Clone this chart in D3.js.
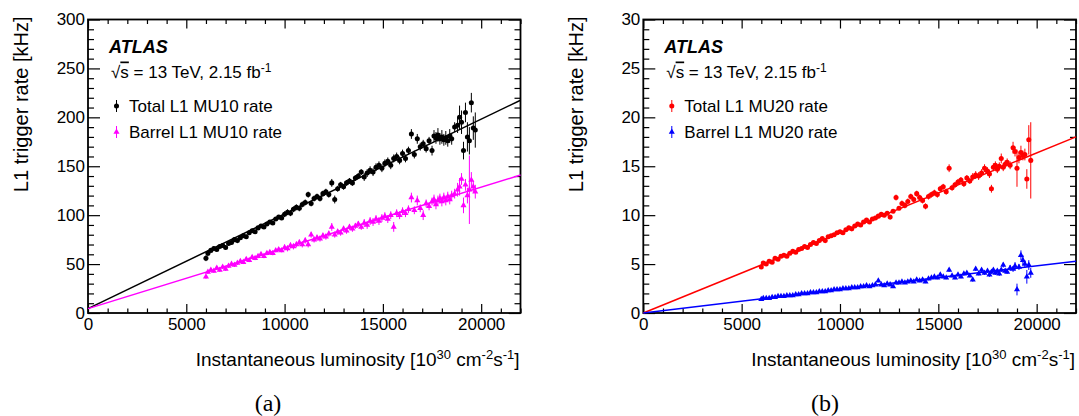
<!DOCTYPE html>
<html><head><meta charset="utf-8">
<script src="https://cdn.jsdelivr.net/npm/d3@7"></script>
<style>
html,body{margin:0;padding:0;background:#fff;}
svg{display:block;font-family:"Liberation Sans",Arial,sans-serif;}
</style></head>
<body><svg id="c" width="1079" height="416"></svg>
<script>
// ---------------- DATA ----------------
const lumi = [6000,6100,6250,6400,6550,6700,6850,7000,7150,7300,7450,7600,7750,7900,8050,8200,8350,8500,8650,8800,8950,9100,9250,9400,9550,9700,9850,10000,10150,10300,10450,10600,10750,10900,11050,11200,11350,11500,11650,11800,11950,12100,12250,12400,12550,12700,12850,13000,13150,13300,13450,13600,13750,13900,14050,14200,14350,14500,14650,14800,14950,15100,15250,15400,15550,15700,15850,16000,16150,16300,16450,16600,16750,16900,17050,17200,17350,17500,17600,17700,17800,17900,18000,18100,18200,18300,18400,18500,18650,18800,18900,19000,19100,19200,19300,19400,19500,19600,19700];

const totalMU10 = [56,61,64,66,65,68,69,67,71,72,75,74,77,79,78,82,84,83,87,89,88,91,93,92,96,98,97,101,103,102,106,108,107,111,113,121,112,117,119,117,122,124,121,133,116,127,131,129,133,135,133,138,140,144,139,143,146,144,149,151,148,153,155,151,158,160,156,163,158,166,183,162,178,170,173,168,176,166,181,179,182,178,180,177,179,176,181,178,190,192,200,195,166,205,180,176,215,189,187];
const totalMU10Err = [3,3,2,2,2,2,2,2,2,2,2,2,2,2,2,2,2,2,2,2,2,2,2,2,2,2,2,3,3,3,3,3,3,3,3,3,3,3,3,3,3,3,3,4,4,3,3,3,3,3,3,3,3,3,4,4,4,4,4,4,4,4,4,4,4,4,4,4,4,4,5,4,5,4,4,4,4,5,6,6,7,6,7,6,7,6,7,6,5,8,12,12,9,10,15,14,10,12,18];

const barrelMU10 = [37,42,44,43,46,44,47,45,48,50,49,51,53,52,55,54,57,56,58,60,58,61,62,61,64,65,64,67,66,69,68,70,72,70,74,70,80,75,77,76,79,78,81,88,80,83,82,86,84,88,86,89,91,88,92,90,94,93,96,94,97,99,96,100,88,102,100,104,102,106,118,105,115,107,100,112,109,114,116,111,115,117,114,118,115,119,116,120,122,126,129,137,110,131,120,126,136,129,124];
const barrelMU10Err = [2,2,2,2,2,2,2,2,2,2,2,2,2,2,2,2,2,2,2,2,2,2,2,2,2,2,2,3,3,3,3,3,3,3,3,3,3,3,3,3,3,3,3,4,3,3,3,3,3,3,3,3,3,3,4,4,4,4,4,4,4,4,4,4,5,4,4,4,4,4,5,4,5,4,5,4,4,4,5,5,5,5,5,5,5,5,5,5,5,7,9,6,8,6,8,35,8,6,7];

const totalMU20 = [4.7,5.1,5.0,5.3,5.2,5.6,5.5,5.8,5.9,5.8,6.1,6.3,6.2,6.5,6.6,6.8,6.7,7.0,7.2,7.1,7.4,7.6,7.4,7.8,7.9,8.0,8.2,8.3,8.2,8.5,8.7,8.6,8.9,9.1,9.0,9.3,9.5,9.3,9.6,9.7,9.9,10.1,10.0,10.2,9.8,10.4,11.8,10.7,11.2,11.0,11.4,11.9,11.6,12.2,11.8,11.5,10.9,11.9,12.1,12.3,12.1,12.7,12.9,12.4,14.8,12.8,13.1,13.4,13.6,13.2,13.8,13.5,13.9,14.1,14.0,14.3,14.8,14.5,14.2,12.7,14.9,15.1,14.7,15.0,15.8,14.9,15.2,15.4,15.1,16.9,16.5,14.8,15.9,16.4,16.1,16.2,13.7,17.7,15.6];
const totalMU20Err = [0.15,0.15,0.15,0.15,0.15,0.15,0.15,0.15,0.15,0.15,0.15,0.15,0.15,0.15,0.15,0.15,0.15,0.15,0.15,0.15,0.15,0.15,0.15,0.15,0.15,0.15,0.15,0.2,0.2,0.2,0.2,0.2,0.2,0.2,0.2,0.2,0.2,0.2,0.2,0.2,0.2,0.2,0.2,0.2,0.2,0.2,0.3,0.2,0.3,0.3,0.3,0.3,0.3,0.3,0.3,0.3,0.3,0.3,0.3,0.3,0.3,0.3,0.3,0.3,0.4,0.3,0.3,0.3,0.3,0.3,0.3,0.3,0.4,0.4,0.4,0.4,0.4,0.4,0.4,0.4,0.4,0.4,0.4,0.4,0.5,0.4,0.4,0.4,0.4,0.6,0.5,1.9,0.6,0.7,0.5,0.6,1.0,1.5,3.9];

const barrelMU20 = [1.4,1.5,1.5,1.5,1.6,1.6,1.7,1.7,1.7,1.8,1.8,1.8,1.9,1.9,2.0,2.0,2.0,2.1,2.1,2.1,2.2,2.2,2.2,2.3,2.3,2.4,2.4,2.4,2.5,2.5,2.5,2.6,2.6,2.6,2.7,2.7,2.8,2.7,2.8,2.9,3.3,2.9,2.8,3.0,2.9,2.7,3.1,3.1,3.2,3.1,3.2,3.3,3.2,3.4,3.3,3.4,3.2,3.5,3.6,3.7,3.6,3.9,3.7,3.6,4.4,3.8,3.6,3.9,3.7,4.0,4.1,3.8,3.4,4.5,4.0,4.4,4.1,4.3,3.9,4.2,4.4,4.1,4.3,4.0,4.4,4.9,4.3,4.2,4.6,4.5,4.8,2.4,4.7,5.9,5.4,5.0,3.7,4.9,4.1];
const barrelMU20Err = [0.08,0.08,0.08,0.08,0.08,0.08,0.08,0.08,0.08,0.08,0.08,0.08,0.08,0.08,0.08,0.08,0.08,0.08,0.08,0.08,0.08,0.08,0.08,0.08,0.08,0.08,0.08,0.1,0.1,0.1,0.1,0.1,0.1,0.1,0.1,0.1,0.1,0.1,0.1,0.1,0.15,0.1,0.1,0.1,0.1,0.15,0.1,0.1,0.1,0.1,0.1,0.1,0.1,0.1,0.15,0.15,0.15,0.15,0.15,0.15,0.15,0.15,0.15,0.15,0.2,0.15,0.15,0.15,0.15,0.15,0.15,0.15,0.2,0.2,0.15,0.2,0.2,0.2,0.2,0.2,0.2,0.2,0.2,0.2,0.2,0.25,0.2,0.2,0.3,0.3,0.4,0.6,0.3,0.5,0.5,0.4,0.7,0.5,0.5];

// fitted straight lines: [lumi, rate] endpoints
const fitTotalMU10 = [[0, 4.5], [22000, 217.5]];
const fitBarrelMU10 = [[0, 4.5], [22000, 141]];
const fitTotalMU20 = [[0, 0], [22000, 18.0]];
const fitBarrelMU20 = [[0, 0], [22000, 5.3]];

const xTicks = [0, 5000, 10000, 15000, 20000];
const yTicksA = [0, 50, 100, 150, 200, 250, 300];
const yTicksB = [0, 5, 10, 15, 20, 25, 30];
const legendA = ["Total L1 MU10 rate", "Barrel L1 MU10 rate"];
const legendB = ["Total L1 MU20 rate", "Barrel L1 MU20 rate"];
const captions = ["(a)", "(b)"];

// ---------------- DRAW ----------------
const svg = d3.select("#c");
const TOP = 19.5, BOT = 313;

function drawPanel(cfg) {
  const x = d3.scaleLinear().domain([0, 22000]).range([cfg.x0, cfg.x1]);
  const y = d3.scaleLinear().domain(cfg.yDomain).range([BOT, TOP]);
  const g = svg.append("g");
  const minorX = d3.range(0, 22001, 1000).filter(v => v % 5000 !== 0);
  const minorY = d3.range(cfg.yDomain[0], cfg.yDomain[1] + 1e-9, cfg.yMinor).filter(v => Math.abs(v / cfg.yMajor - Math.round(v / cfg.yMajor)) > 1e-6);

  // bottom axis
  g.append("g").attr("transform", `translate(0,${BOT})`)
    .call(d3.axisBottom(x).tickValues(xTicks).tickSizeInner(-9).tickSizeOuter(0).tickPadding(5).tickFormat(d3.format("d")));
  g.append("g").attr("transform", `translate(0,${BOT})`)
    .call(d3.axisBottom(x).tickValues(minorX).tickSizeInner(-4.5).tickSizeOuter(0).tickFormat(""));
  // top axis
  g.append("g").attr("transform", `translate(0,${TOP})`)
    .call(d3.axisTop(x).tickValues(xTicks).tickSizeInner(-9).tickSizeOuter(0).tickFormat(""));
  g.append("g").attr("transform", `translate(0,${TOP})`)
    .call(d3.axisTop(x).tickValues(minorX).tickSizeInner(-4.5).tickSizeOuter(0).tickFormat(""));
  // left axis
  g.append("g").attr("transform", `translate(${cfg.x0},0)`)
    .call(d3.axisLeft(y).tickValues(cfg.yTicks).tickSizeInner(-12).tickSizeOuter(0).tickPadding(3).tickFormat(d3.format("d")));
  g.append("g").attr("transform", `translate(${cfg.x0},0)`)
    .call(d3.axisLeft(y).tickValues(minorY).tickSizeInner(-6).tickSizeOuter(0).tickFormat(""));
  // right axis
  g.append("g").attr("transform", `translate(${cfg.x1},0)`)
    .call(d3.axisRight(y).tickValues(cfg.yTicks).tickSizeInner(-12).tickSizeOuter(0).tickFormat(""));
  g.append("g").attr("transform", `translate(${cfg.x1},0)`)
    .call(d3.axisRight(y).tickValues(minorY).tickSizeInner(-6).tickSizeOuter(0).tickFormat(""));

  g.selectAll(".domain").remove();
  g.selectAll(".tick line").attr("stroke", "#000").attr("stroke-width", 1.2);
  g.selectAll(".tick text").attr("font-family", "Liberation Sans, Arial, sans-serif").attr("font-size", 17).attr("fill", "#000");

  // frame
  g.append("rect").attr("x", cfg.x0).attr("y", TOP).attr("width", cfg.x1 - cfg.x0).attr("height", BOT - TOP)
    .attr("fill", "none").attr("stroke", "#000").attr("stroke-width", 1.8);

  // fit lines
  const line = d3.line().x(d => x(d[0])).y(d => y(d[1]));
  cfg.series.forEach(s => {
    g.append("path").datum(s.fit).attr("d", line).attr("fill", "none").attr("stroke", s.color).attr("stroke-width", 1.5);
  });

  // data points
  cfg.series.forEach(s => {
    const pts = lumi.map((l, i) => ({ l, v: s.vals[i], e: s.errs[i] }));
    const sg = g.append("g");
    sg.selectAll("line.err").data(pts).join("line")
      .attr("x1", d => x(d.l)).attr("x2", d => x(d.l))
      .attr("y1", d => y(d.v - d.e)).attr("y2", d => y(d.v + d.e))
      .attr("stroke", s.color).attr("stroke-width", 1);
    const sym = d3.symbol().type(s.shape === "circle" ? d3.symbolCircle : d3.symbolTriangle).size(s.shape === "circle" ? 20 : 16);
    sg.selectAll("path.m").data(pts).join("path")
      .attr("transform", d => `translate(${x(d.l)},${y(d.v)})`)
      .attr("d", sym()).attr("fill", s.color);
  });

  // ATLAS label
  g.append("text").attr("x", cfg.x0 + 21).attr("y", 52.5)
    .attr("font-size", 18).attr("font-weight", "bold").attr("font-style", "italic").text("ATLAS");
  const t = g.append("text").attr("x", cfg.x0 + 23).attr("y", 77.5).attr("font-size", 17);
  t.append("tspan").text("√");
  t.append("tspan").attr("text-decoration", "overline").text("s");
  t.append("tspan").text(" = 13 TeV, 2.15 fb");
  t.append("tspan").attr("font-size", 12).attr("dy", -6).text("-1");

  // legend
  cfg.series.forEach((s, i) => {
    const ly = 106 + i * 26;
    const lx = cfg.x0 + 28.5;
    g.append("line").attr("x1", lx).attr("x2", lx).attr("y1", ly - 6).attr("y2", ly + 6).attr("stroke", s.color).attr("stroke-width", 1);
    const sym = d3.symbol().type(s.shape === "circle" ? d3.symbolCircle : d3.symbolTriangle).size(s.shape === "circle" ? 20 : 16);
    g.append("path").attr("transform", `translate(${lx},${ly})`).attr("d", sym()).attr("fill", s.color);
    g.append("text").attr("x", cfg.x0 + 41).attr("y", ly + 6).attr("font-size", 17).text(cfg.legend[i]);
  });

  // y title
  g.append("text").attr("transform", `translate(${cfg.yTitleX},${TOP - 3}) rotate(-90)`)
    .attr("text-anchor", "end").attr("font-size", 20).text("L1 trigger rate [kHz]");

  // x title
  const xt = g.append("text").attr("x", cfg.x1 - 1).attr("y", 366).attr("text-anchor", "end").attr("font-size", 19);
  xt.append("tspan").text("Instantaneous luminosity [10");
  xt.append("tspan").attr("font-size", 13).attr("dy", -7).text("30");
  xt.append("tspan").attr("dy", 7).text(" cm");
  xt.append("tspan").attr("font-size", 13).attr("dy", -7).text("-2");
  xt.append("tspan").attr("dy", 7).text("s");
  xt.append("tspan").attr("font-size", 13).attr("dy", -7).text("-1");
  xt.append("tspan").attr("dy", 7).text("]");

  // caption
  svg.append("text").attr("x", cfg.capX).attr("y", 411).attr("text-anchor", "middle")
    .attr("font-family", "Liberation Serif, Times New Roman, serif").attr("font-size", 24).text(cfg.caption);
}

drawPanel({
  x0: 88, x1: 520.5, yDomain: [0, 300], yTicks: yTicksA, yMajor: 50, yMinor: 10,
  legend: legendA, caption: captions[0], capX: 268, yTitleX: 27.5,
  series: [
    { vals: totalMU10, errs: totalMU10Err, fit: fitTotalMU10, color: "#000000", shape: "circle" },
    { vals: barrelMU10, errs: barrelMU10Err, fit: fitBarrelMU10, color: "#ff00ff", shape: "triangle" }
  ]
});
drawPanel({
  x0: 643.3, x1: 1076, yDomain: [0, 30], yTicks: yTicksB, yMajor: 5, yMinor: 1,
  legend: legendB, caption: captions[1], capX: 825, yTitleX: 583,
  series: [
    { vals: totalMU20, errs: totalMU20Err, fit: fitTotalMU20, color: "#ff0000", shape: "circle" },
    { vals: barrelMU20, errs: barrelMU20Err, fit: fitBarrelMU20, color: "#0000ff", shape: "triangle" }
  ]
});
</script></body></html>
